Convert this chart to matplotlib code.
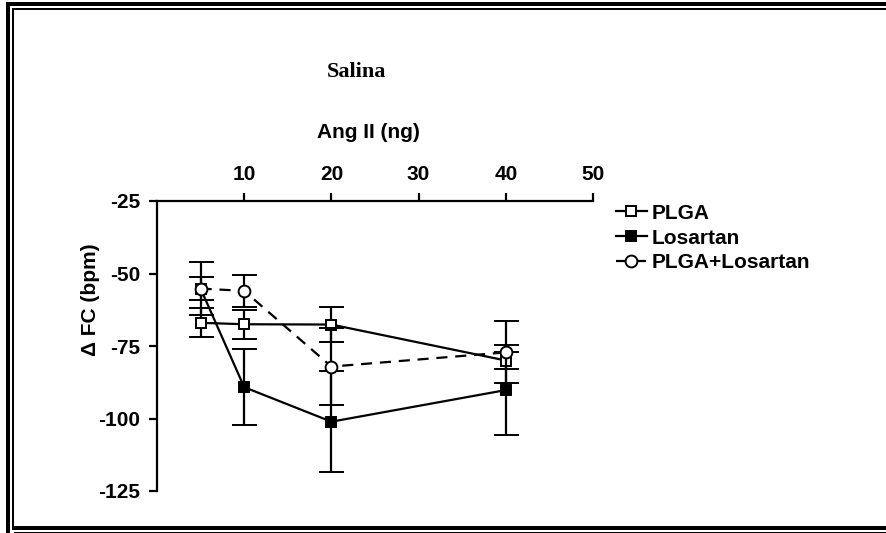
import matplotlib
matplotlib.use("Agg")
import matplotlib.pyplot as plt
from matplotlib.patches import Rectangle

plt.rcParams['axes.unicode_minus'] = False
plt.rcParams['font.family'] = ['Liberation Sans', 'DejaVu Sans']

# Ang II doses (ng)
dose = [5, 10, 20, 40]

# delta heart rate (bpm), mean and error
plga = [-67, -67.5, -67.6, -80]
plga_err = [5, 5, 6, 3]
losartan = [-55.2, -89.2, -101.1, -90.2]
losartan_err = [4, 13, 17.5, 15.5]
plga_los = [-55.2, -56, -82.1, -77.2]
plga_los_err = [9, 5.5, 13.4, 10.7]

x_ticks = [10, 20, 30, 40, 50]
y_ticks = [-25, -50, -75, -100, -125]

W, H = 886, 533
fig = plt.figure(figsize=(W / 100, H / 100), dpi=100)
ax = fig.add_axes([157 / W, 1 - 491 / H, (593 - 157) / W, (491 - 201) / H])

lw = 1.6
common = dict(lw=lw, elinewidth=lw, capsize=9, capthick=lw, mew=1.4, color='k')

ax.errorbar(dose, plga, yerr=plga_err, fmt='-s', ms=7, mfc='white', label='PLGA', zorder=3, **common)
ax.errorbar(dose, losartan, yerr=losartan_err, fmt='-s', ms=6.5, mfc='black', label='Losartan',
            zorder=2, **common)
ax.errorbar(dose, plga_los, yerr=plga_los_err, fmt='--o', ms=8.5, mfc='white', label='PLGA+Losartan',
            dashes=(5, 3.5), zorder=4, **common)

ax.set_xlim(0, 50)
ax.set_ylim(-125, -25)
ax.set_xticks(x_ticks)
ax.set_yticks(y_ticks)
ax.xaxis.tick_top()
for s in ['bottom', 'right']:
    ax.spines[s].set_visible(False)
for s in ['top', 'left']:
    ax.spines[s].set_linewidth(lw)
ax.tick_params(width=lw, length=6, labelsize=15, pad=6)
for lab in ax.get_xticklabels() + ax.get_yticklabels():
    lab.set_fontweight('bold')

# legend with error bars hidden in the handles
handles, labels = ax.get_legend_handles_labels()
handles = [h[0] for h in handles]
fig.legend(handles, labels, loc='upper left', bbox_to_anchor=(597 / W, 1 - 185 / H),
           frameon=False, handlelength=1.5, handletextpad=0.2, labelspacing=0.28,
           prop={'weight': 'bold', 'size': 15})

fig.text(357 / W, 1 - 72 / H, 'Salina', ha='center', va='center', fontsize=16,
         fontweight='bold', family='Liberation Serif')
fig.text(368 / W, 1 - 132 / H, 'Ang II (ng)', ha='center', va='center', fontsize=15,
         fontweight='bold')
fig.text(90 / W, 1 - 300 / H, '\u0394 FC (bpm)', ha='center', va='center', fontsize=15,
         fontweight='bold', rotation=90)

# double border around the figure
def bar(x, y, w, h):
    fig.add_artist(Rectangle((x / W, 1 - (y + h) / H), w / W, h / H,
                             transform=fig.transFigure, color='k', lw=0))

bar(6, 2, 4, 531)
bar(6, 2, 880, 4)
bar(12, 8, 2, 520)
bar(12, 8, 874, 2)
bar(12, 526, 874, 4)
bar(14, 531.5, 872, 1.5)

fig.savefig('out.png', dpi=100, facecolor='white')
